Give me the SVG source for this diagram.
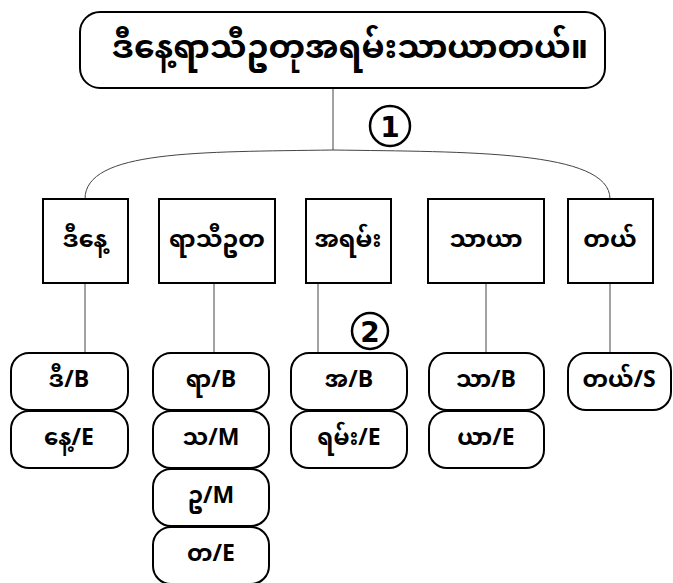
<svg xmlns="http://www.w3.org/2000/svg" width="673" height="583" viewBox="0 0 673 583">
  <style>
    .box { fill: #ffffff; stroke: #000000; stroke-width: 2; }
    .wire { fill: none; stroke: #444444; stroke-width: 1; }
    .mm { font-family: "Noto Sans Myanmar", "Padauk", "Myanmar Text", "Noto Sans", "DejaVu Sans", sans-serif; font-weight: bold; fill: #000000; text-anchor: middle; dominant-baseline: central; }
    .title { font-size: 33px; }
    .word { font-size: 24px; }
    .tag { font-size: 23px; }
    .num { font-family: "DejaVu Sans", sans-serif; font-size: 28px; font-weight: bold; fill: #000000; text-anchor: middle; dominant-baseline: central; }
    .ring { fill: #ffffff; stroke: #000000; stroke-width: 2.5; }
  </style>

  <!-- connectors -->
  <g id="connectors">
    <line class="wire" x1="333" y1="89" x2="333" y2="150"/>
    <path class="wire" d="M85,199 C85,150 200,152 333,150 C466,152 610,150 610,199"/>
    <line class="wire" x1="85" y1="283" x2="85" y2="353"/>
    <line class="wire" x1="214" y1="283" x2="214" y2="353"/>
    <line class="wire" x1="318" y1="283" x2="318" y2="353"/>
    <line class="wire" x1="486" y1="283" x2="486" y2="353"/>
    <line class="wire" x1="610" y1="283" x2="610" y2="353"/>
  </g>

  <!-- step markers -->
  <g id="marker-1">
    <circle class="ring" cx="390" cy="126" r="20"/>
    <text class="num" x="390" y="127">1</text>
  </g>
  <g id="marker-2">
    <circle class="ring" cx="370" cy="331" r="18"/>
    <text class="num" x="370" y="332">2</text>
  </g>

  <!-- sentence -->
  <g id="sentence">
    <rect class="box" x="80" y="12" width="525" height="76" rx="20"/>
    <text class="mm title" x="350" y="50">ဒီနေ့ရာသီဥတုအရမ်းသာယာတယ်။</text>
  </g>

  <!-- words -->
  <g id="word-1">
    <rect class="box" x="43" y="199" width="85" height="84"/>
    <text class="mm word" x="85" y="241">ဒီနေ့</text>
  </g>
  <g id="word-2">
    <rect class="box" x="159" y="199" width="116" height="84"/>
    <text class="mm word" x="217" y="241">ရာသီဥတ</text>
  </g>
  <g id="word-3">
    <rect class="box" x="306" y="199" width="85" height="84"/>
    <text class="mm word" x="348" y="241">အရမ်း</text>
  </g>
  <g id="word-4">
    <rect class="box" x="428" y="199" width="116" height="84"/>
    <text class="mm word" x="486" y="241">သာယာ</text>
  </g>
  <g id="word-5">
    <rect class="box" x="568" y="199" width="85" height="84"/>
    <text class="mm word" x="610" y="241">တယ်</text>
  </g>

  <!-- syllable tags -->
  <g id="tag-1a"><rect class="box" x="11" y="353" width="117" height="57" rx="18"/><text class="mm tag" x="69" y="382">ဒီ/B</text></g>
  <g id="tag-1b"><rect class="box" x="11" y="411" width="117" height="57" rx="18"/><text class="mm tag" x="69" y="440">နေ့/E</text></g>

  <g id="tag-2a"><rect class="box" x="153" y="353" width="116" height="57" rx="18"/><text class="mm tag" x="211" y="382">ရာ/B</text></g>
  <g id="tag-2b"><rect class="box" x="153" y="411" width="116" height="57" rx="18"/><text class="mm tag" x="211" y="440">သ/M</text></g>
  <g id="tag-2c"><rect class="box" x="153" y="469" width="116" height="57" rx="18"/><text class="mm tag" x="211" y="498">ဥ/M</text></g>
  <g id="tag-2d"><rect class="box" x="153" y="527" width="116" height="57" rx="18"/><text class="mm tag" x="211" y="556">တ/E</text></g>

  <g id="tag-3a"><rect class="box" x="291" y="353" width="116" height="57" rx="18"/><text class="mm tag" x="349" y="382">အ/B</text></g>
  <g id="tag-3b"><rect class="box" x="291" y="411" width="116" height="57" rx="18"/><text class="mm tag" x="349" y="440">ရမ်း/E</text></g>

  <g id="tag-4a"><rect class="box" x="429" y="353" width="115" height="57" rx="18"/><text class="mm tag" x="486" y="382">သာ/B</text></g>
  <g id="tag-4b"><rect class="box" x="429" y="411" width="115" height="57" rx="18"/><text class="mm tag" x="486" y="440">ယာ/E</text></g>

  <g id="tag-5a"><rect class="box" x="568" y="353" width="103" height="57" rx="18"/><text class="mm tag" x="619" y="382">တယ်/S</text></g>
</svg>
